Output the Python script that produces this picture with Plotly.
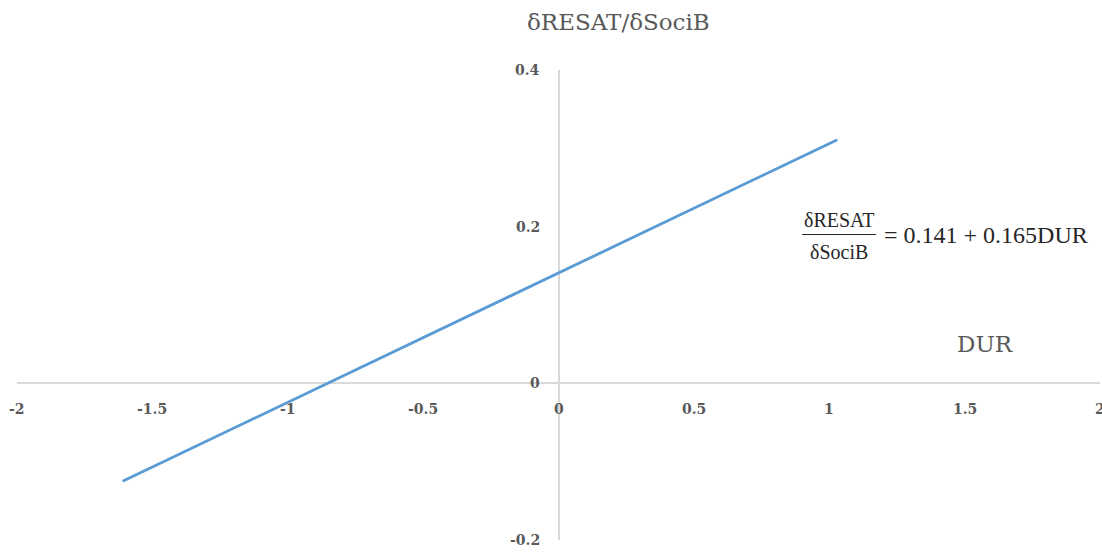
import plotly.graph_objects as go

# Data
dur_x = [-1.61, 1.03]
slope_y = [-0.125, 0.311]
x_ticks = [-2, -1.5, -1, -0.5, 0, 0.5, 1, 1.5, 2]
x_tick_labels = ["-2", "-1.5", "-1", "-0.5", "0", "0.5", "1", "1.5", "2"]
y_ticks = [-0.2, 0, 0.2, 0.4]
y_tick_labels = ["-0.2", "0", "0.2", "0.4"]

GRAY = "#595959"
AXIS = "#D9D9D9"
TICKFONT = dict(family="DejaVu Serif", size=14, color=GRAY)

fig = go.Figure()
fig.add_trace(go.Scatter(x=dur_x, y=slope_y, mode="lines",
                         line=dict(color="#5B9BD5", width=2.8),
                         showlegend=False, hoverinfo="skip"))

annotations = []
for v, t in zip(x_ticks, x_tick_labels):
    annotations.append(dict(x=v, y=0, xref="x", yref="y", text="<b>%s</b>" % t,
                            showarrow=False, xanchor="center", yanchor="middle",
                            yshift=-26, font=TICKFONT))
for v, t in zip(y_ticks, y_tick_labels):
    annotations.append(dict(x=0, y=v, xref="x", yref="y", text="<b>%s</b>" % t,
                            showarrow=False, xanchor="right", yanchor="middle",
                            xshift=-17, font=TICKFONT))

# Axis titles
annotations.append(dict(x=0.22, y=0.4, xref="x", yref="y", text="δRESAT/δSociB",
                        showarrow=False, xanchor="center", yanchor="middle",
                        yshift=48, font=dict(family="DejaVu Serif", size=23, color=GRAY)))
annotations.append(dict(x=1.576, y=0, xref="x", yref="y", text="DUR",
                        showarrow=False, xanchor="center", yanchor="middle",
                        yshift=39, font=dict(family="DejaVu Serif", size=23, color=GRAY)))

# Equation
EQ_COLOR = "#262626"
FRACFONT = dict(family="Liberation Serif", size=20, color=EQ_COLOR)
EQFONT = dict(family="Liberation Serif", size=24, color=EQ_COLOR)
annotations.append(dict(x=1.037, y=0.19, xref="x", yref="y", text="δRESAT",
                        showarrow=False, xanchor="center", yanchor="middle",
                        yshift=15, font=FRACFONT))
annotations.append(dict(x=1.037, y=0.19, xref="x", yref="y", text="δSociB",
                        showarrow=False, xanchor="center", yanchor="middle",
                        yshift=-17, font=FRACFONT))
annotations.append(dict(x=1.196, y=0.19, xref="x", yref="y", text="= 0.141 + 0.165DUR",
                        showarrow=False, xanchor="left", yanchor="middle",
                        yshift=0, font=EQFONT))

fig.update_layout(
    width=1102, height=552,
    margin=dict(l=17, r=2, t=70, b=12),
    paper_bgcolor="white", plot_bgcolor="white",
    xaxis=dict(range=[-2, 2], showgrid=False, showticklabels=False, ticks="",
               zeroline=True, zerolinecolor=AXIS, zerolinewidth=1.5, showline=False,
               fixedrange=True),
    yaxis=dict(range=[-0.2, 0.4], showgrid=False, showticklabels=False, ticks="",
               zeroline=True, zerolinecolor=AXIS, zerolinewidth=1.5, showline=False,
               fixedrange=True),
    annotations=annotations,
    shapes=[dict(type="line", xref="x", yref="y", x0=0.9, x1=1.173, y0=0.19, y1=0.19,
                 line=dict(color=EQ_COLOR, width=1.2))],
)

fig.write_html("out.html", config={"displayModeBar": False},
               post_script="document.body.style.margin='0';")
